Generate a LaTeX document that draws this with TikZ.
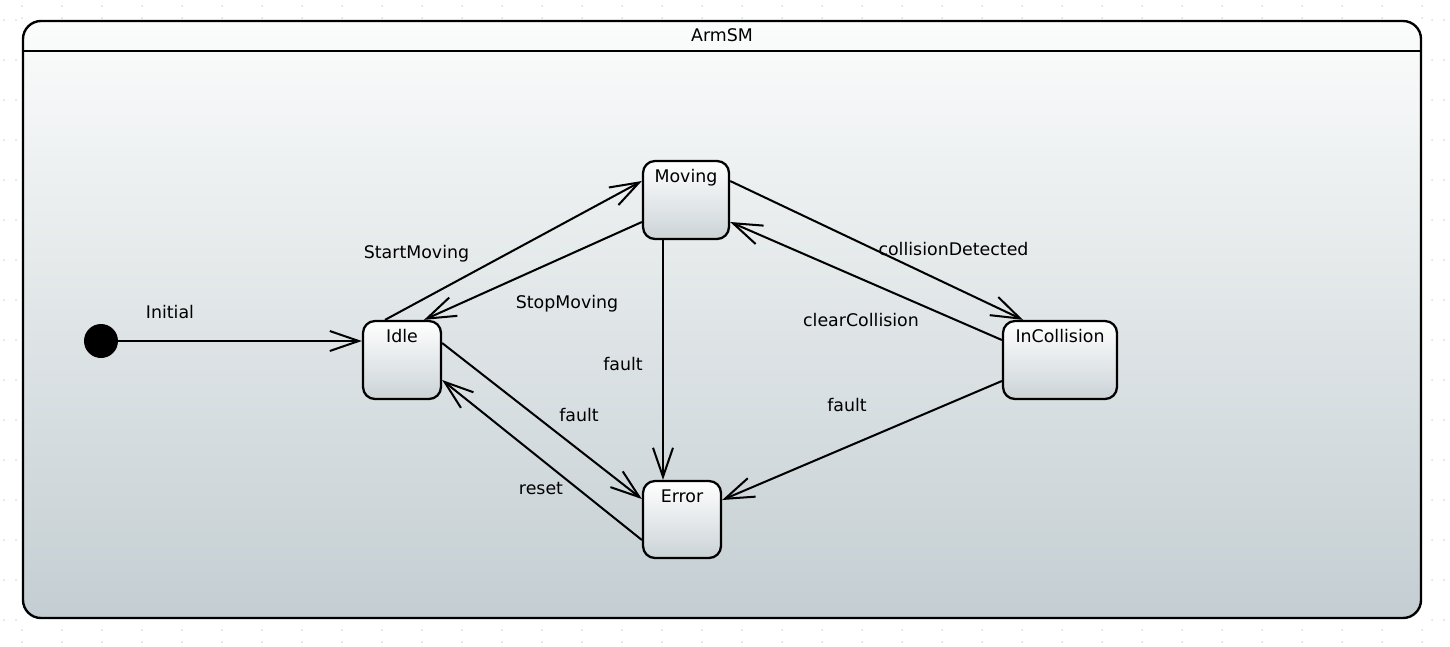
\documentclass[tikz,border=0pt]{standalone}
\usepackage{fontspec}
\setmainfont{DejaVu Sans}
\usetikzlibrary{arrows.meta}
\definecolor{smtop}{RGB}{251,252,252}
\definecolor{smbottom}{RGB}{196,206,210}
\definecolor{statebottom}{RGB}{203,211,215}
\definecolor{griddot}{RGB}{220,220,220}
\tikzstyle{smframe}=[draw, line width=1.35pt, rounded corners=0.36cm, top color=smtop, bottom color=smbottom]
\tikzstyle{smstate}=[draw, line width=1.3pt, rounded corners=0.24cm, top color=white, bottom color=statebottom,
                     inner sep=0, minimum height=1.56cm]
\tikzstyle{initstate}=[circle, fill=black, inner sep=0, minimum size=0.68cm]
\tikzstyle{transition}=[draw, line width=1.15pt, -{Straight Barb[length=0.58cm, width=0.4cm]}]
\tikzstyle{evt}=[anchor=base, inner sep=0]
\tikzstyle{statemachine}=[x=0.02cm, y=-0.02cm, font=\fontsize{9.9}{12}\selectfont,
                          % One unit is one pixel of the reference.
                          execute at begin picture={\useasboundingbox (0,0) rectangle (1450,646);}]
\begin{document}
\begin{tikzpicture}[statemachine]
        % Dotted canvas grid.
        \foreach \gx in {22,62,...,1422}
            \foreach \gy in {6,18,630,642}
                \fill[griddot] (\gx,\gy) circle (1);
        \foreach \gx in {4,16,1432,1444}
            \foreach \gy in {20,60,...,620}
                \fill[griddot] (\gx,\gy) circle (1);
        \path[smframe] (23,21) rectangle (1421,618);
        \draw[line width=1.35pt] (23,51) -- (1421,51);
        \node[evt] (ArmSM) at (722,41) {ArmSM};

        \node[initstate] (Init) at (101,341) {};
        \node[smstate, minimum width=1.56cm, label={[evt, yshift=-0.46cm]north:Idle}] (Idle) at (402,360) {};
        \node[smstate, minimum width=1.72cm, label={[evt, yshift=-0.46cm]north:Moving}] (Moving) at (686,200) {};
        \node[smstate, minimum width=1.56cm, minimum height=1.54cm, label={[evt, yshift=-0.46cm]north:Error}] (Error) at (682,519.5) {};
        \node[smstate, minimum width=2.28cm, label={[evt, yshift=-0.46cm]north:InCollision}] (InCollision) at (1060,360) {};

        \draw[transition] (Init) -- (Init -| Idle.west);
        \draw[transition] ([xshift=-0.34cm]Idle.north) -- ([yshift=0.38cm]Moving.west);
        \draw[transition] ([yshift=-0.44cm]Moving.west) -- ([xshift=0.44cm]Idle.north);
        \draw[transition] ([xshift=-0.46cm]Moving.south) -- ([xshift=-0.46cm]Moving.south |- Error.north);
        \draw[transition] ([yshift=0.34cm]Idle.east) -- ([yshift=0.41cm]Error.west);
        \draw[transition] ([yshift=-0.41cm]Error.west) -- ([yshift=-0.4cm]Idle.east);
        \draw[transition] ([yshift=0.38cm]Moving.east) -- ([xshift=-0.74cm]InCollision.north);
        \draw[transition] ([yshift=0.4cm]InCollision.west) -- ([yshift=-0.44cm]Moving.east);
        \draw[transition] ([yshift=-0.42cm]InCollision.west) -- ([yshift=0.39cm]Error.east);

        \node[evt] (lInitial) at (170,318) {Initial};
        \node[evt] (lStart) at (416.5,258) {StartMoving};
        \node[evt] (lStop) at (567,308) {StopMoving};
        \node[evt] (lFaultMoving) at (623,370) {fault};
        \node[evt] (lFaultIdle) at (579,421) {fault};
        \node[evt] (lReset) at (541,494) {reset};
        \node[evt] (lDetected) at (953.5,255) {collisionDetected};
        \node[evt] (lClear) at (861,326) {clearCollision};
        \node[evt] (lFaultColl) at (847,411) {fault};
    \end{tikzpicture}
\end{document}
